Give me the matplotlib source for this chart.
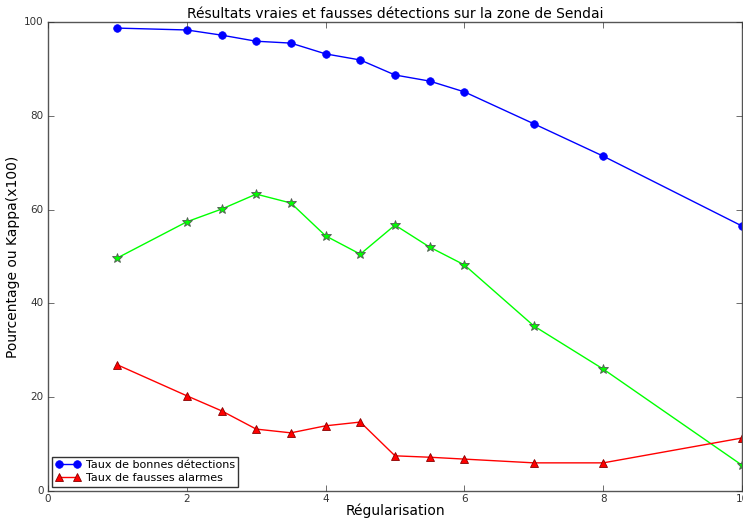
import matplotlib
matplotlib.use("Agg")
import matplotlib.pyplot as plt

plt.style.use("classic")

# regularisation values
x = [1, 2, 2.5, 3, 3.5, 4, 4.5, 5, 5.5, 6, 7, 8, 10]

bonnes = [98.7, 98.3, 97.2, 95.9, 95.5, 93.2, 91.9, 88.7, 87.4, 85.1, 78.3, 71.4, 56.5]
kappa = [49.7, 57.4, 60.1, 63.3, 61.4, 54.4, 50.5, 56.7, 52.0, 48.2, 35.2, 26.0, 5.5]
fausses = [26.9, 20.3, 17.1, 13.2, 12.4, 13.9, 14.7, 7.5, 7.2, 6.8, 6.0, 6.0, 11.3]

fig = plt.figure(figsize=(7.43, 5.2), dpi=100, facecolor="white")
ax = fig.add_subplot(111)
fig.subplots_adjust(left=48 / 743, right=742 / 743, top=1 - 22 / 520, bottom=1 - 491 / 520)

ax.plot(x, bonnes, "-o", color="blue", markersize=5.5, markeredgecolor="blue",
        label="Taux de bonnes détections")
ax.plot(x, kappa, "-*", color="#00ff00", markersize=7, markeredgecolor="#555555",
        markeredgewidth=0.6)
ax.plot(x, fausses, "-^", color="red", markersize=6, markeredgecolor="#880000",
        markeredgewidth=0.6, label="Taux de fausses alarmes")

ax.set_xlim(0, 10)
ax.set_ylim(0, 100)
ax.set_xticks([0, 2, 4, 6, 8, 10])
ax.set_yticks([0, 20, 40, 60, 80, 100])
ax.tick_params(labelsize=7.5, colors="#333333")
ax.tick_params(axis="x", pad=2)
ax.tick_params(axis="y", pad=3)
for s in ax.spines.values():
    s.set_color("#555555")

ax.set_title("Résultats vraies et fausses détections sur la zone de Sendai", fontsize=10, pad=3)
ax.set_xlabel("Régularisation", fontsize=10, labelpad=0)
ax.set_ylabel("Pourcentage ou Kappa(x100)", fontsize=10, labelpad=3)

leg = ax.legend(loc="lower left", fontsize=8, numpoints=2, borderaxespad=0.4,
                handletextpad=0.5, borderpad=0.3, labelspacing=0.3, handlelength=2.2)
leg.get_frame().set_edgecolor("#333333")

fig.savefig("out.png", dpi=100, facecolor="white")
